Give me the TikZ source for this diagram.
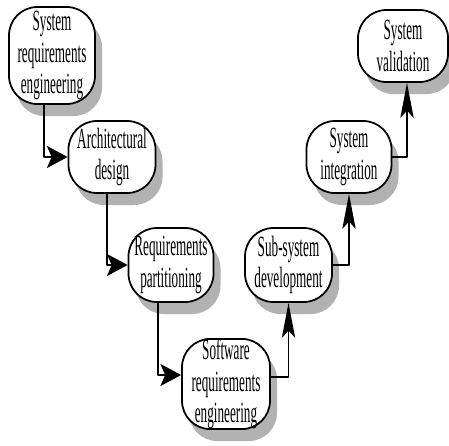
\documentclass[tikz,border=0pt]{standalone}
\usepackage{fontspec}
\setmainfont{Liberation Serif}[FakeStretch=0.45]
\usetikzlibrary{arrows.meta,shadows}
\tikzset{
  stage/.style={draw,line width=1.5pt,rounded corners=0.85cm,align=center,inner sep=0pt,
    fill=white,drop shadow={shadow xshift=0.21cm,shadow yshift=-0.36cm,fill=gray!60,opacity=1},
    font=\fontsize{25}{27}\selectfont},
  rightarr/.style={line width=1.5pt,-{Stealth[length=0.62cm,width=0.66cm,inset=0.14cm]}},
  uparr/.style={line width=1.5pt,-{Stealth[length=1.05cm,width=0.4cm,inset=0.22cm]}}
}
\begin{document}
\begin{tikzpicture}[x=0.03cm,y=-0.03cm,line join=round]
	\useasboundingbox (0,0) rectangle (449,445);
	
	\coordinate (A) at (52,55.5);
	\coordinate (B) at (112,157);
	\coordinate (C) at (171,265);
	\coordinate (D) at (226,384);
	\coordinate (E) at (288.5,265);
	\coordinate (F) at (349,157);
	\coordinate (G) at (403,46);
	
	% descending branch
	\node[stage,minimum width=2.58cm,minimum height=2.91cm] (sre) at (A) {System\\requirements\\engineering};
	\node[stage,minimum width=2.61cm,minimum height=2.16cm] (arch) at (B) {Architectural\\design};
	\node[stage,minimum width=2.55cm,minimum height=2.22cm] (part) at (C) {Requirements\\partitioning};
	\node[stage,minimum width=2.64cm,minimum height=2.64cm] (swre) at (D) {Software\\requirements\\engineering};
	% ascending branch
	\node[stage,minimum width=2.61cm,minimum height=2.22cm] (subsys) at (E) {Sub-system\\development};
	\node[stage,minimum width=2.55cm,minimum height=2.16cm] (integ) at (F) {System\\integration};
	\node[stage,minimum width=2.7cm,minimum height=2.16cm] (valid) at (G) {System\\validation};
	
	\draw[rightarr] ([xshift=-0.24cm]sre.south) |- (arch.west);
	\draw[rightarr] ([xshift=-0.15cm]arch.south) |- (part.west);
	\draw[rightarr] ([xshift=-0.39cm]part.south) |- ([yshift=0.27cm]swre.west);
	\draw[uparr] ([yshift=0.21cm]swre.east) -| (subsys.south);
	\draw[uparr] (subsys.east) -| (integ.south);
	\draw[uparr] (integ.east) -| ([xshift=0.12cm]valid.south);
\end{tikzpicture}
\end{document}
